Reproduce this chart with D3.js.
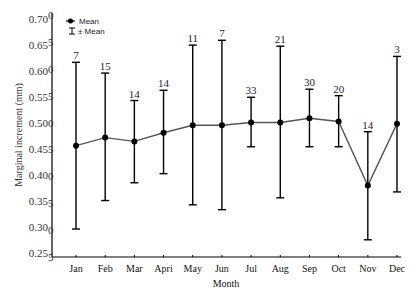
<!DOCTYPE html>
<html>
<head>
<meta charset="utf-8">
<script src="https://cdn.jsdelivr.net/npm/d3@7"></script>
<style>
  body { margin: 0; background: #fff; }
  text { font-family: "Liberation Serif", "Times New Roman", serif; }
</style>
</head>
<body>
<div class="chart"></div>
<script>

var months = ["Jan","Feb","Mar","Apri","May","Jun","Jul","Aug","Sep","Oct","Nov","Dec"];
var means  = [0.457,0.472,0.465,0.481,0.495,0.495,0.500,0.500,0.508,0.502,0.383,0.498];
var upper  = [0.612,0.592,0.541,0.560,0.644,0.653,0.547,0.642,0.562,0.550,0.483,0.623];
var lower  = [0.302,0.355,0.388,0.405,0.347,0.338,0.455,0.360,0.455,0.455,0.282,0.371];
var counts = [7,15,14,14,11,7,33,21,30,20,14,3];

var yTicks = [0.25,0.30,0.35,0.40,0.45,0.50,0.55,0.60,0.65,0.70];
var yDigits = ["5","0","5","0","5","0","5","0","5","0"];

var width = 418, height = 292;

var svg = d3.select(".chart")
  .append("svg")
    .attr("width", width)
    .attr("height", height);

var x = d3.scalePoint()
  .domain(months)
  .range([76, 397]);

var y = d3.scaleLinear()
  .domain([0.25, 0.70])
  .range([257, 15]);

// tick labels sit on a slightly squeezed copy of the scale
var yLab = d3.scaleLinear()
  .domain([0.25, 0.70])
  .range([253, 19]);

// axes
svg.append("line")
  .attr("x1", 52).attr("x2", 52)
  .attr("y1", y(0.70) - 2).attr("y2", y(0.25))
  .attr("stroke", "#000").attr("stroke-width", 1.2);

svg.append("line")
  .attr("x1", 52).attr("x2", 401)
  .attr("y1", y(0.25)).attr("y2", y(0.25))
  .attr("stroke", "#000").attr("stroke-width", 1.2);

svg.selectAll(".xtick")
  .data(months)
  .enter()
  .append("line")
  .attr("x1", function(d) { return x(d) })
  .attr("x2", function(d) { return x(d) })
  .attr("y1", y(0.25) - 2)
  .attr("y2", y(0.25))
  .attr("stroke", "#000");

svg.selectAll(".xlab")
  .data(months)
  .enter()
  .append("text")
  .attr("x", function(d) { return x(d) })
  .attr("y", 272)
  .attr("text-anchor", "middle")
  .attr("font-size", 10)
  .attr("fill", "#111")
  .text(function(d) { return d });

svg.append("text")
  .attr("x", 226)
  .attr("y", 287)
  .attr("text-anchor", "middle")
  .attr("font-size", 10)
  .attr("fill", "#111")
  .text("Month");

svg.selectAll(".ylab")
  .data(yTicks)
  .enter()
  .append("text")
  .attr("x", 48)
  .attr("y", function(d) { return yLab(d) + 4 })
  .attr("text-anchor", "end")
  .attr("font-size", 11)
  .attr("fill", "#333")
  .text(function(d) { return d.toFixed(2) });

svg.selectAll(".ydig")
  .data(yTicks)
  .enter()
  .append("text")
  .attr("x", 48)
  .attr("y", function(d) { return y(d) + 4 })
  .attr("font-size", 11)
  .attr("fill", "#333")
  .text(function(d, i) { return yDigits[i] });

svg.append("text")
  .attr("transform", "translate(22,135) rotate(-90)")
  .attr("text-anchor", "middle")
  .attr("font-size", 10)
  .attr("fill", "#333")
  .text("Marginal increment (mm)");

// mean line
var line = d3.line()
  .x(function(d, i) { return x(months[i]) })
  .y(function(d) { return y(d) });

svg.append("path")
  .datum(means)
  .attr("d", line)
  .attr("fill", "none")
  .attr("stroke", "#555")
  .attr("stroke-width", 1.4);

// error bars
var bars = svg.selectAll(".bar")
  .data(months)
  .enter()
  .append("g");

bars.append("line")
  .attr("x1", function(d) { return x(d) })
  .attr("x2", function(d) { return x(d) })
  .attr("y1", function(d, i) { return y(upper[i]) })
  .attr("y2", function(d, i) { return y(lower[i]) })
  .attr("stroke", "#000").attr("stroke-width", 1.4);

bars.append("line")
  .attr("x1", function(d) { return x(d) - 4 })
  .attr("x2", function(d) { return x(d) + 4 })
  .attr("y1", function(d, i) { return y(upper[i]) })
  .attr("y2", function(d, i) { return y(upper[i]) })
  .attr("stroke", "#000").attr("stroke-width", 1.4);

bars.append("line")
  .attr("x1", function(d) { return x(d) - 4 })
  .attr("x2", function(d) { return x(d) + 4 })
  .attr("y1", function(d, i) { return y(lower[i]) })
  .attr("y2", function(d, i) { return y(lower[i]) })
  .attr("stroke", "#000").attr("stroke-width", 1.4);

bars.append("circle")
  .attr("cx", function(d) { return x(d) })
  .attr("cy", function(d, i) { return y(means[i]) })
  .attr("r", 3)
  .attr("fill", "#000");

bars.append("text")
  .attr("x", function(d) { return x(d) })
  .attr("y", function(d, i) { return y(upper[i]) - 3 })
  .attr("text-anchor", "middle")
  .attr("font-size", 11)
  .attr("fill", "#2a1a3a")
  .text(function(d, i) { return counts[i] });

// legend
var lg = svg.append("g").attr("font-family", "Liberation Sans, Arial, sans-serif");
lg.append("line")
  .attr("x1", 66).attr("x2", 75).attr("y1", 21).attr("y2", 21)
  .attr("stroke", "#000").attr("stroke-width", 1.2);
lg.append("circle").attr("cx", 70.5).attr("cy", 21).attr("r", 2.5).attr("fill", "#000");
lg.append("text").attr("x", 79).attr("y", 24).attr("font-size", 8)
  .style("font-family", "Liberation Sans, Arial, sans-serif").attr("fill", "#222").text("Mean");

lg.append("line").attr("x1", 72).attr("x2", 72).attr("y1", 28).attr("y2", 34)
  .attr("stroke", "#000").attr("stroke-width", 1);
lg.append("line").attr("x1", 69).attr("x2", 75).attr("y1", 28).attr("y2", 28)
  .attr("stroke", "#000").attr("stroke-width", 1);
lg.append("line").attr("x1", 69).attr("x2", 75).attr("y1", 34).attr("y2", 34)
  .attr("stroke", "#000").attr("stroke-width", 1);
lg.append("text").attr("x", 78).attr("y", 34).attr("font-size", 8)
  .style("font-family", "Liberation Sans, Arial, sans-serif").attr("fill", "#222").text("± Mean");

</script>
</body>
</html>
